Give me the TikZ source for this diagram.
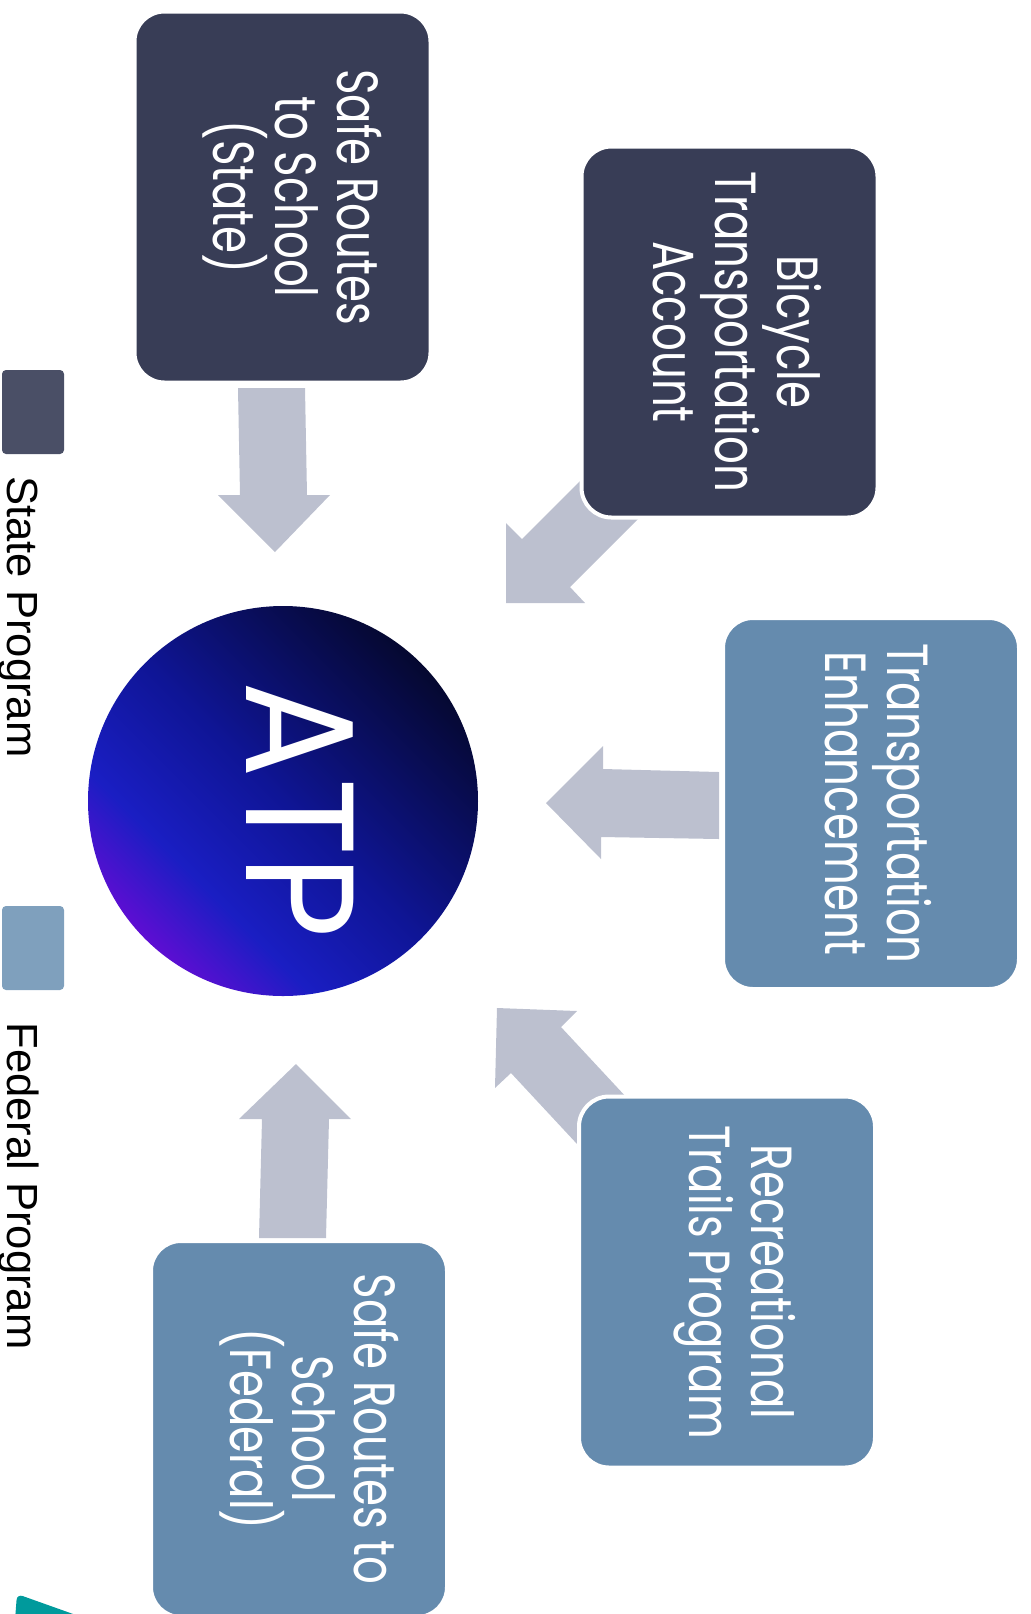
\documentclass[tikz,border=0pt]{standalone}
\usepackage{fontspec}
\newfontfamily\boxfont[FakeStretch=0.75]{Poppins}
\newfontfamily\atpfont[FakeStretch=0.93]{Poppins}
\newfontfamily\legfont{Liberation Sans}
\definecolor{dkbox}{RGB}{56,61,86}
\definecolor{ltbox}{RGB}{101,139,174}
\definecolor{arrowc}{RGB}{188,192,207}
\definecolor{legdk}{RGB}{74,79,102}
\definecolor{leglt}{RGB}{127,160,189}
\definecolor{tealc}{RGB}{0,154,156}
\definecolor{atpP}{RGB}{100,12,212}
\definecolor{atpB}{RGB}{26,30,195}
\definecolor{atpM}{RGB}{15,21,150}
\definecolor{atpN}{RGB}{5,8,48}
\pgfdeclarehorizontalshading{atpshade}{100bp}{color(0bp)=(atpP); color(24bp)=(atpP); color(35bp)=(atpB); color(50bp)=(atpM); color(75bp)=(atpN); color(100bp)=(atpN)}
\begin{document}
\begin{tikzpicture}[x=0.5pt,y=-0.5pt,
  prog/.style={rotate=-90, rounded corners=15pt, draw=white, line width=2pt,
    minimum width=185.5pt, minimum height=148pt, inner sep=0pt, align=center,
    text depth=8pt, text=white, font=\boxfont\fontsize{29}{31}\selectfont},
  deepprog/.style={text depth=15.5pt},
  stateprog/.style={prog, fill=dkbox},
  fedprog/.style={prog, fill=ltbox},
  blockarrow/.style={fill=arrowc},
  legsq/.style={rounded corners=2pt, minimum width=31pt, minimum height=42pt, inner sep=0pt},
  legtext/.style={rotate=-90, anchor=base west, inner sep=0pt, font=\legfont\fontsize{21.8}{25}\selectfont, text=black}]
\useasboundingbox (0,0) rectangle (1031,1614);

% block arrows (behind boxes)
\fill[blockarrow] (238,388) -- (305,388) -- (307,495) -- (330,495) -- (275,552) -- (218,495) -- (240,495) -- cycle;
\fill[blockarrow] (506,603) -- (506,523) -- (522,539) -- (602,459) -- (650,507) -- (570,587) -- (585,603) -- cycle;
\fill[blockarrow] (719,772) -- (603,769) -- (603,746) -- (546,803) -- (601,859) -- (601,837) -- (719,839) -- cycle;
\fill[blockarrow] (497,1008) -- (577,1011) -- (561,1027) -- (641,1113) -- (591,1159) -- (511,1073) -- (495,1088) -- cycle;
\fill[blockarrow] (259,1238) -- (262,1119) -- (239,1119) -- (296,1064) -- (351,1119) -- (329,1119) -- (326,1238) -- cycle;

% program boxes
\node[stateprog, deepprog] (srss) at (282.5,197) {Safe Routes\\to School\\(State)};
\node[stateprog] (bta) at (729.5,332) {Bicycle\\Transportation\\Account};
\node[fedprog] (te) at (871,803.5) {Transportation\\Enhancement};
\node[fedprog, deepprog] (rtp) at (727,1282) {Recreational\\Trails Program};
\node[fedprog, deepprog, minimum width=188pt] (srsf) at (299,1429) {Safe Routes to\\School\\(Federal)};

% ATP circle
\node[circle, minimum size=195pt, inner sep=0pt, shading=atpshade, shading angle=45] (atp) at (283,801) {};
\node[rotate=-90, inner sep=0pt, text=white, font=\atpfont\fontsize{77}{80}\selectfont] (atptext) at (300,810) {ATP};

% legend
\node[legsq, fill=legdk] (lgs) at (33,412) {};
\node[legtext] (lgstext) at (7,476) {State Program};
\node[legsq, fill=leglt] (lgf) at (33,948) {};
\node[legtext] (lgftext) at (7,1022) {Federal Program};

% teal corner shape
\fill[tealc, rounded corners=3pt] (15,1620) -- (17,1594) -- (90,1620) -- cycle;
\end{tikzpicture}
\end{document}
